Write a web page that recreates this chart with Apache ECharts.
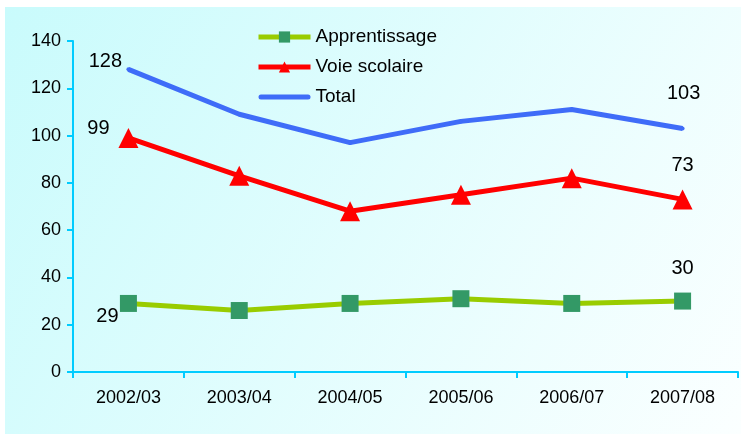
<!DOCTYPE html>
<html>
<head>
<meta charset="utf-8">
<script src="https://cdn.jsdelivr.net/npm/echarts@6/dist/echarts.min.js"></script>
<style>html,body{margin:0;padding:0;background:#fff;}#c{width:741px;height:434px;}</style>
</head>
<body>
<div id="c"></div>
<script>
const categories = ['2002/03','2003/04','2004/05','2005/06','2006/07','2007/08'];
const apprentissage = [29, 26, 29, 31, 29, 30];
const voieScolaire = [99, 83, 68, 75, 82, 73];
const total = [128, 109, 97, 106, 111, 103];
const yTicks = [0, 20, 40, 60, 80, 100, 120, 140];

const chart = echarts.init(document.getElementById('c'));
const FONT = 'Liberation Sans, Arial, sans-serif';

function labelled(data, firstOffset, lastOffset) {
  return data.map((v, i) => {
    if (i === 0 || i === data.length - 1) {
      return {
        value: v,
        label: {
          show: true, position: 'inside',
          offset: i === 0 ? firstOffset : lastOffset,
          color: '#000', fontSize: 20, fontFamily: FONT,
          formatter: '{c}'
        }
      };
    }
    return v;
  });
}

chart.setOption({
  animation: false,
  graphic: [{
    type: 'rect', silent: true, z: -10,
    shape: { x: 5, y: 7, width: 736, height: 427 },
    style: {
      fill: new echarts.graphic.LinearGradient(0, 0, 1, 1, [
        { offset: 0, color: '#c9fbfc' },
        { offset: 1, color: '#fbffff' }
      ])
    }
  }],
  grid: { left: 73, right: 3, top: 41, bottom: 62, containLabel: false },
  legend: {
    orient: 'vertical', left: 251, top: 22,
    itemWidth: 52, itemHeight: 14, itemGap: 10,
    lineStyle: { width: 5 },
    textStyle: { fontSize: 19, fontFamily: FONT, color: '#000', lineHeight: 20 },
    data: [
      'Apprentissage',
      'Voie scolaire',
      { name: 'Total', icon: 'path://M2.5,0 L49.5,0 A2.5,2.5 0 0 1 49.5,5 L2.5,5 A2.5,2.5 0 0 1 2.5,0 Z' }
    ]
  },
  xAxis: {
    type: 'category', data: categories, boundaryGap: true,
    axisLine: { lineStyle: { color: '#00ccff', width: 2 } },
    axisTick: { show: true, length: 6, lineStyle: { color: '#00ccff', width: 2 } },
    axisLabel: { color: '#000', fontSize: 18, fontFamily: FONT, margin: 17 }
  },
  yAxis: {
    type: 'value', min: yTicks[0], max: yTicks[yTicks.length - 1], interval: 20,
    axisLine: { show: true, lineStyle: { color: '#00ccff', width: 2 } },
    axisTick: { show: true, length: 6, lineStyle: { color: '#00ccff', width: 2 } },
    splitLine: { show: false },
    axisLabel: { color: '#000', fontSize: 18, fontFamily: FONT, margin: 12 }
  },
  series: [
    {
      name: 'Apprentissage', type: 'line',
      data: labelled(apprentissage, [-21, 13], [0, -33]),
      symbol: 'rect', symbolSize: 17,
      lineStyle: { color: '#99cc00', width: 5 },
      itemStyle: { color: '#339966' }
    },
    {
      name: 'Voie scolaire', type: 'line',
      data: labelled(voieScolaire, [-30, -9], [0, -34]),
      symbol: 'triangle', symbolSize: 20,
      lineStyle: { color: '#ff0000', width: 5 },
      itemStyle: { color: '#ff0000' }
    },
    {
      name: 'Total', type: 'line',
      data: labelled(total, [-23, -8], [1, -35]),
      symbol: 'circle', symbolSize: 4,
      lineStyle: { color: '#3f6cf8', width: 5 },
      itemStyle: { color: '#3f6cf8' }
    }
  ]
});
</script>
</body>
</html>
